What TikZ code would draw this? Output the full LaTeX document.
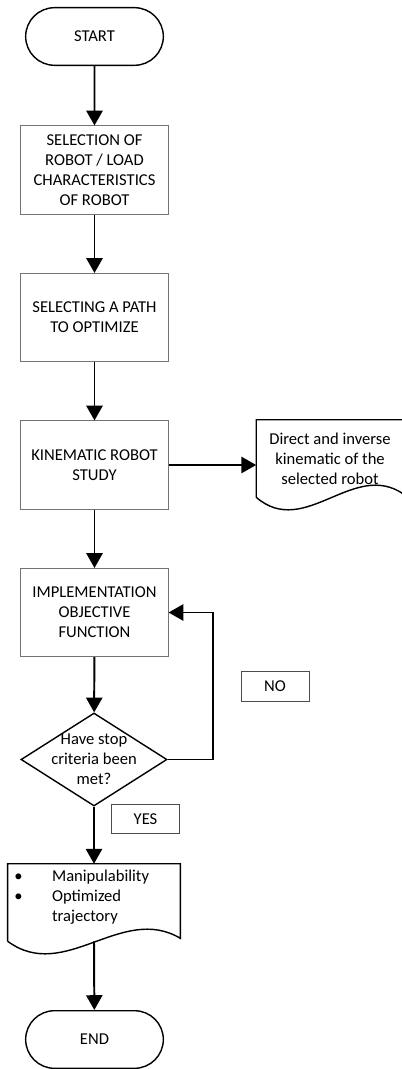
\documentclass[tikz,border=0pt]{standalone}
\usepackage{fontspec}
\setmainfont{Carlito}
\usepackage{tikz}
\usetikzlibrary{positioning,arrows.meta,shapes.geometric,shapes.misc,calc}

\tikzset{
  flow/.style={black,line width=1.4pt,-{Triangle[length=10.5pt,width=11.5pt]}},
  txt/.style={font=\fontsize{11.8}{14.3}\selectfont,align=center},
  terminal/.style={txt,rounded rectangle,draw=black,line width=1pt,minimum width=3.675cm,minimum height=1.44cm},
  process/.style={txt,rectangle,draw=black!55,line width=0.7pt,minimum width=3.675cm,minimum height=2.2cm},
  decision/.style={txt,diamond,draw=black,line width=1pt,minimum width=3.65cm,minimum height=2.325cm,inner sep=0pt},
  docbox/.style={txt,rectangle,minimum width=#1,minimum height=1.925cm},
  tagbox/.style={txt,rectangle,draw=black!70,line width=0.7pt,minimum width=1.7cm,minimum height=0.74cm}
}
% wavy-bottomed document outline around a node
\newcommand{\wavydoc}[1]{%
  \draw [black,line width=1pt] (#1.south west) -- (#1.north west) -- (#1.north east)
    -- ($(#1.south east)+(0,-3)$)
    .. controls ($(#1.south west)!0.66!(#1.south east)+(0,-38)$)
    and ($(#1.south west)!0.33!(#1.south east)+(0,42)$) .. (#1.south west);}

\begin{document}
\begin{tikzpicture}[x=0.025cm,y=-0.025cm]
\useasboundingbox (0,0) rectangle (401,1069);

\node[terminal] (start) at (94.5,36.5) {START};
\node[process] (robot) at (94.5,170) {SELECTION OF\\ROBOT / LOAD\\CHARACTERISTICS\\OF ROBOT};
\node[process] (path) at (94.5,317.5) {SELECTING A PATH\\TO OPTIMIZE};
\node[process] (kin) at (94.5,465) {KINEMATIC ROBOT\\STUDY};
\node[docbox=3.675cm] (direct) at (330,458.5) {Direct and inverse\\kinematic of the\\selected robot};
\node[process] (impl) at (94.5,612.5) {IMPLEMENTATION\\OBJECTIVE\\FUNCTION};
\node[decision,label={[txt]center:Have stop\\criteria been\\met?}] (check) at (94,759.5) {};
\node[tagbox] (no) at (275,686.5) {NO};
\node[tagbox] (yes) at (145.5,819) {YES};
\node[docbox=4.3cm] (result) at (94,902.5) {};
\node[txt,anchor=north west,inner sep=0pt,align=left] (resulttxt) at (14,867)
  {\begin{tabular}{@{}l@{\hspace{21pt}}l@{}}
   \textbullet & Manipulability\\
   \textbullet & Optimized\\
               & trajectory
   \end{tabular}};
\node[terminal] (end) at (94.5,1039.5) {END};

\wavydoc{direct}
\wavydoc{result}

\draw [flow] (start) -- (robot);
\draw [flow] (robot) -- (path);
\draw [flow] (path) -- (kin);
\draw [flow] (kin.east) -- (kin.east -| direct.west);
\draw [flow] (kin) -- (impl);
\draw [flow] (impl) -- (check);
\draw [flow] (check.east) -- ++(45,0) |- (impl.east);
\draw [flow] (check.south) -- (result.north);
\draw [flow] (result.south) -- (end);
\end{tikzpicture}
\end{document}
